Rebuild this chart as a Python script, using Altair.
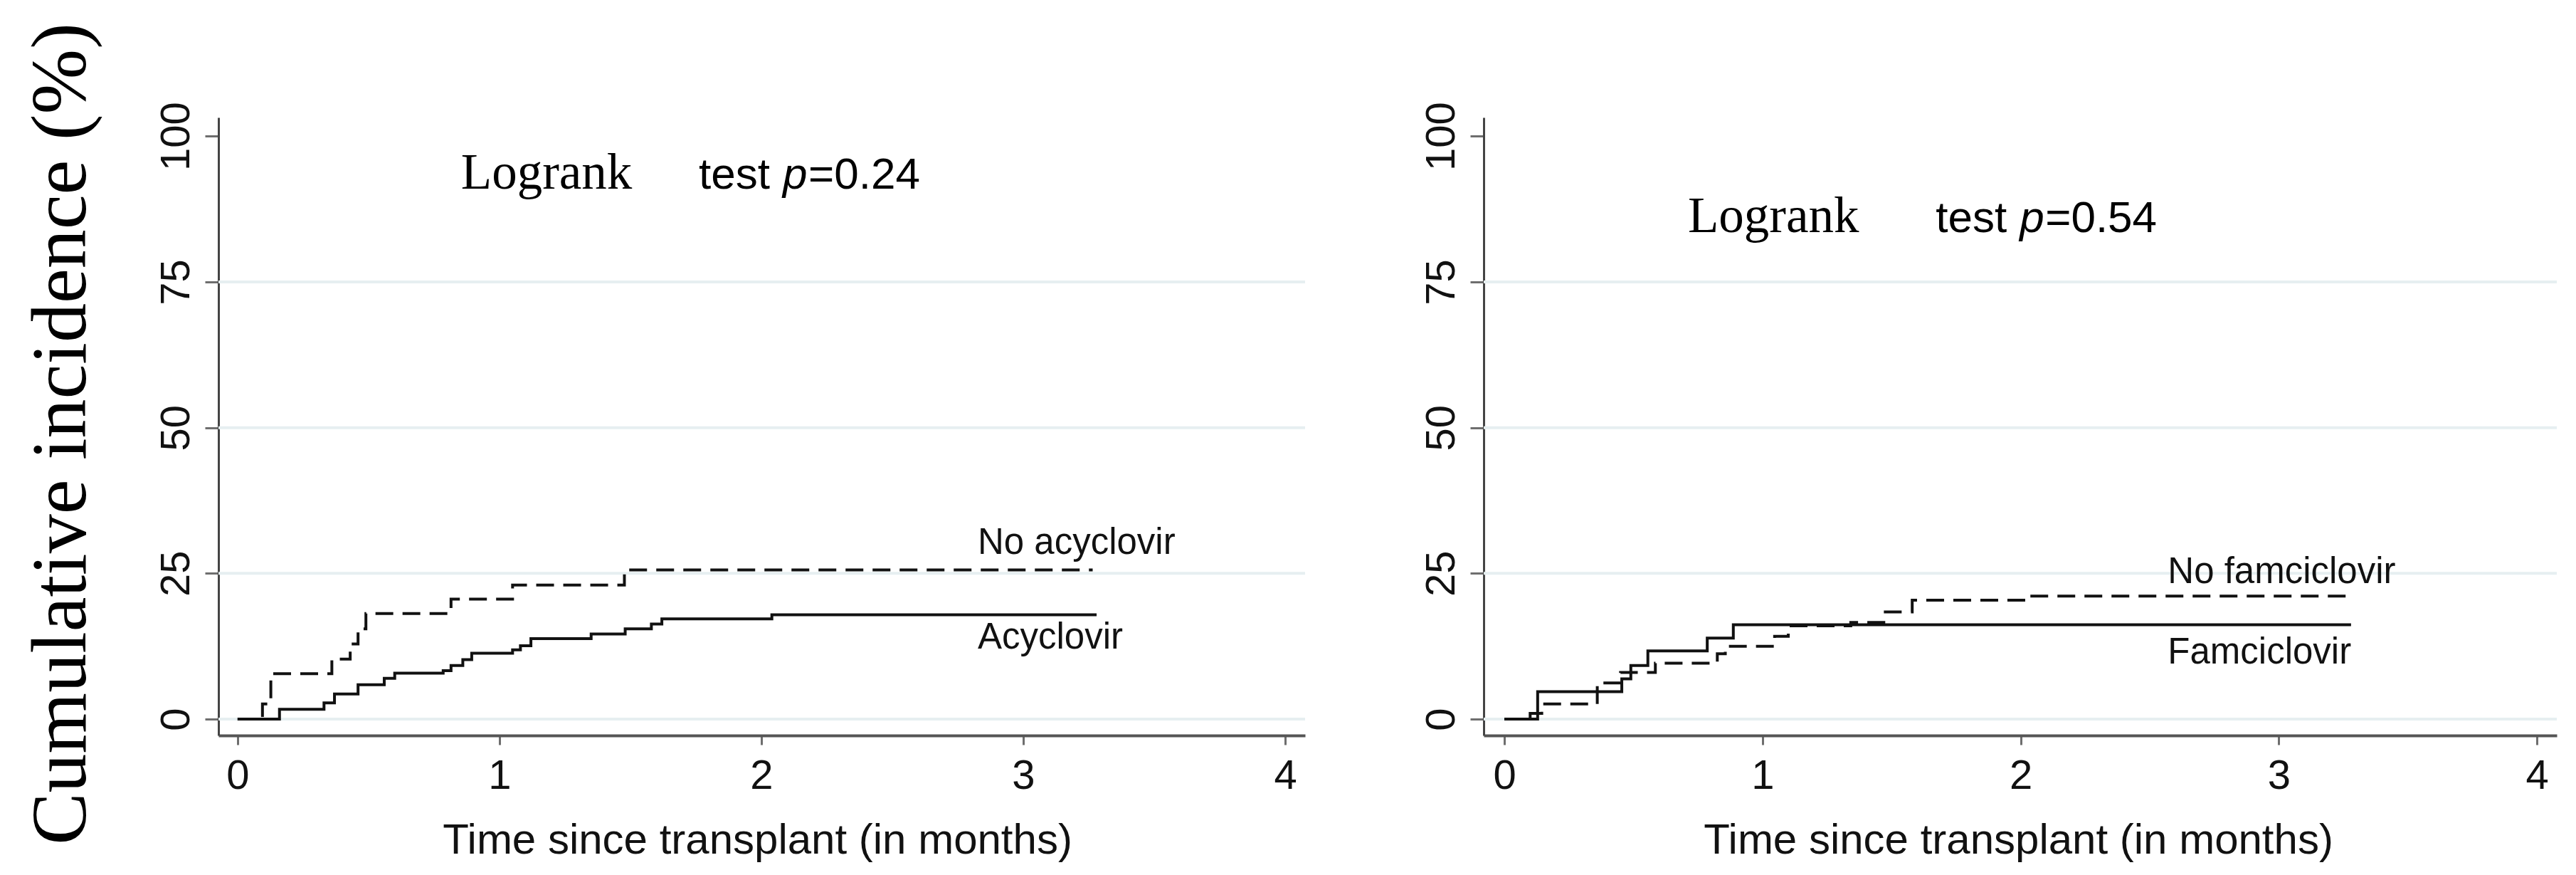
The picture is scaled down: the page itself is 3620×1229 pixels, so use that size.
import altair as alt
import pandas as pd

# ---- data (months, cumulative incidence %) ----
acy_t = [0, 0.16, 0.33, 0.37, 0.46, 0.56, 0.60, 0.785, 0.815, 0.86, 0.894, 1.05, 1.08, 1.12, 1.35, 1.48, 1.58, 1.62, 2.04, 3.28]
acy_y = [0, 1.7, 2.8, 4.3, 5.9, 7.0, 7.9, 8.3, 9.2, 10.2, 11.3, 11.9, 12.6, 13.8, 14.6, 15.5, 16.3, 17.2, 17.9, 17.9]

noacy_t = [0, 0.095, 0.127, 0.36, 0.43, 0.46, 0.49, 0.815, 1.05, 1.477, 3.265]
noacy_y = [0, 2.6, 7.8, 10.3, 12.9, 15.5, 18.1, 20.6, 23.0, 25.6, 25.6]

fam_t = [0, 0.129, 0.455, 0.49, 0.556, 0.786, 0.887, 3.28]
fam_y = [0, 4.7, 6.9, 9.2, 11.7, 13.9, 16.2, 16.2]

nofam_t = [0, 0.10, 0.145, 0.36, 0.45, 0.585, 0.825, 0.856, 1.047, 1.10, 1.342, 1.47, 1.58, 2.02, 3.27]
nofam_y = [0, 1.0, 2.6, 6.2, 8.0, 9.6, 11.2, 12.5, 14.2, 16.0, 16.6, 18.4, 20.4, 21.1, 21.1]

grid_values = [0, 25, 50, 75]
y_ticks = [0, 25, 50, 75, 100]
x_ticks = [0, 1, 2, 3, 4]

left_pvalue = "=0.24"
right_pvalue = "=0.54"

# annotation anchors in data units (t, y)
left_logrank = (0.853, 91.0)
left_test = (1.761, 91.0)
right_logrank = (0.711, 83.5)
right_test = (1.671, 83.5)
left_labels = [("No acyclovir", 2.826, 28.3), ("Acyclovir", 2.826, 12.1)]
right_labels = [("No famciclovir", 2.57, 23.3), ("Famciclovir", 2.57, 9.5)]

SANS = "Liberation Sans, Arial, Helvetica, sans-serif"
SERIF = "Liberation Serif, Times New Roman, Times, serif"
INK = "#111111"


def curve_df(ts, ys):
    return pd.DataFrame({"t": ts, "y": ys})


def panel(solid_t, solid_y, dash_t, dash_y, xdom, width, show_title,
          logrank_pos, test_pos, pval, labels, title_x):
    height = 868
    yaxis = alt.Axis(
        values=y_ticks, labelAngle=270, labelAlign="center", labelBaseline="alphabetic",
        labelPadding=23, tickSize=19, tickWidth=3, tickColor="#6e6e6e",
        domainColor="#444444", domainWidth=3, grid=False,
        labelFont=SANS, labelFontSize=58, labelColor=INK,
        title="Cumulative incidence (%)" if show_title else "",
        titleFont=SERIF, titleFontSize=110, titleFontWeight="normal", titleColor="#000000",
        titleAngle=270, titleAlign="center", titleBaseline="alphabetic",
        titleX=-188, titleY=444,
    )
    xaxis = alt.Axis(
        values=x_ticks, format="d", tickSize=13, tickWidth=3, tickColor="#6e6e6e",
        domainColor="#555555", domainWidth=4, grid=False,
        labelFont=SANS, labelFontSize=58, labelColor=INK, labelPadding=15,
        title="Time since transplant (in months)", titleFont=SANS, titleFontSize=60,
        titleFontWeight="normal", titleColor=INK, titleBaseline="alphabetic",
        titleY=165, titleX=title_x,
    )
    X = alt.X("t:Q", scale=alt.Scale(domain=xdom, nice=False, zero=False), axis=xaxis)
    Y = alt.Y("y:Q", scale=alt.Scale(domain=[-2.8, 103.2], nice=False, zero=False), axis=yaxis)

    grid = alt.Chart(pd.DataFrame({"y": grid_values})).mark_rule(
        color="#e6eff1", strokeWidth=4).encode(y=Y)

    solid = alt.Chart(curve_df(solid_t, solid_y)).mark_line(
        interpolate="step-after", color=INK, strokeWidth=4).encode(x=X, y=Y)
    dashed = alt.Chart(curve_df(dash_t, dash_y)).mark_line(
        interpolate="step-after", color=INK, strokeWidth=4, strokeDash=[25, 13]).encode(x=X, y=Y)

    lr = alt.Chart(pd.DataFrame({"t": [logrank_pos[0]], "y": [logrank_pos[1]], "s": ["Logrank"]})).mark_text(
        font=SERIF, fontSize=71, align="left", baseline="alphabetic", color="#000000").encode(x=X, y=Y, text="s:N")
    tdf = pd.DataFrame({"t": [test_pos[0]], "y": [test_pos[1]]})
    t1 = alt.Chart(tdf).mark_text(text="test", font=SANS, fontSize=62, align="left",
                                  baseline="alphabetic", color="#000000").encode(x=X, y=Y)
    t2 = alt.Chart(tdf).mark_text(text="p", font=SANS, fontSize=62, fontStyle="italic", align="left",
                                  baseline="alphabetic", color="#000000", dx=118).encode(x=X, y=Y)
    t3 = alt.Chart(tdf).mark_text(text=pval, font=SANS, fontSize=62, align="left",
                                  baseline="alphabetic", color="#000000", dx=154).encode(x=X, y=Y)

    ldf = pd.DataFrame({"s": [l[0] for l in labels], "t": [l[1] for l in labels], "y": [l[2] for l in labels]})
    lab = alt.Chart(ldf).mark_text(font=SANS, fontSize=51, align="left", baseline="alphabetic",
                                   color=INK).encode(x=X, y=Y, text="s:N")

    return alt.layer(grid, dashed, solid, lr, t1, t2, t3, lab).properties(width=width, height=height)


left = panel(acy_t, acy_y, noacy_t, noacy_y, [-0.073, 4.076], 1527, True,
             left_logrank, left_test, left_pvalue, left_labels, 757)
right = panel(fam_t, fam_y, nofam_t, nofam_y, [-0.08, 4.077], 1508, False,
              right_logrank, right_test, right_pvalue, right_labels, 751)

chart = alt.hconcat(left, right, spacing=160).properties(
    padding={"left": 22, "top": 23, "right": 5, "bottom": 5},
    background="white",
).configure_view(stroke=None)

chart.save("out.html", embed_options={"renderer": "svg", "actions": False})
